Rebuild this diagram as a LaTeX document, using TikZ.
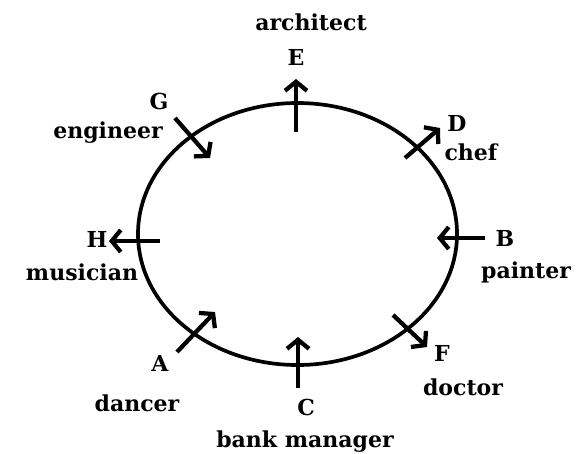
\documentclass[tikz,border=0pt]{standalone}
\usepackage{fontspec}
\setmainfont{DejaVu Serif}
\usepackage{tikz}
\usetikzlibrary{arrows.meta}
\tikzset{
	job/.style={font=\fontsize{22}{26}\selectfont\bfseries, inner sep=0pt},
	dirarrow/.style={line width=1.5mm, -{Straight Barb[length=9pt,width=22pt]}}
}

\begin{document}
\begin{tikzpicture}[x=1pt, y=-1pt]
			%%%%% START %%%%%
			\useasboundingbox (0, 0) rectangle (577, 453);
			
			\draw[line width=1.3mm] (297.5, 234) ellipse (159.5 and 131);
			
			% arrow ends
			\coordinate (Es) at (296, 132);
			\coordinate (Et) at (296, 79);
			\coordinate (Gs) at (175, 118);
			\coordinate (Gt) at (210, 158);
			\coordinate (Ds) at (405, 158);
			\coordinate (Dt) at (440, 128);
			\coordinate (Hs) at (160, 241);
			\coordinate (Ht) at (109, 241);
			\coordinate (Bs) at (485, 238);
			\coordinate (Bt) at (437, 238);
			\coordinate (As) at (177, 352);
			\coordinate (At) at (215, 312);
			\coordinate (Cs) at (298, 388);
			\coordinate (Ct) at (298, 337);
			\coordinate (Fs) at (393, 315);
			\coordinate (Ft) at (427, 347);
			
			\draw[dirarrow] (Es) -- (Et);
			\draw[dirarrow] (Gs) -- (Gt);
			\draw[dirarrow] (Ds) -- (Dt);
			\draw[dirarrow] (Hs) -- (Ht);
			\draw[dirarrow] (Bs) -- (Bt);
			\draw[dirarrow] (As) -- (At);
			\draw[dirarrow] (Cs) -- (Ct);
			\draw[dirarrow] (Fs) -- (Ft);
			
			% letters and jobs
			\node[job] (E) at (296, 57) {E};
			\node[job] (architect) at (311, 22) {architect};
			\node[job] (G) at (159, 101) {G};
			\node[job] (engineer) at (108, 133) {engineer};
			\node[job] (D) at (457, 123) {D};
			\node[job] (chef) at (471, 152) {chef};
			\node[job] (H) at (97, 239) {H};
			\node[job] (musician) at (82, 272) {musician};
			\node[job] (B) at (505, 238) {B};
			\node[job] (painter) at (526, 272) {painter};
			\node[job] (A) at (160, 363) {A};
			\node[job] (dancer) at (137, 403) {dancer};
			\node[job] (C) at (306, 407) {C};
			\node[job] (bankmanager) at (305, 442) {bank manager};
			\node[job] (F) at (442, 353) {F};
			\node[job] (doctor) at (463, 387) {doctor};
			
			%%%%% END %%%%%
		\end{tikzpicture}
\end{document}
